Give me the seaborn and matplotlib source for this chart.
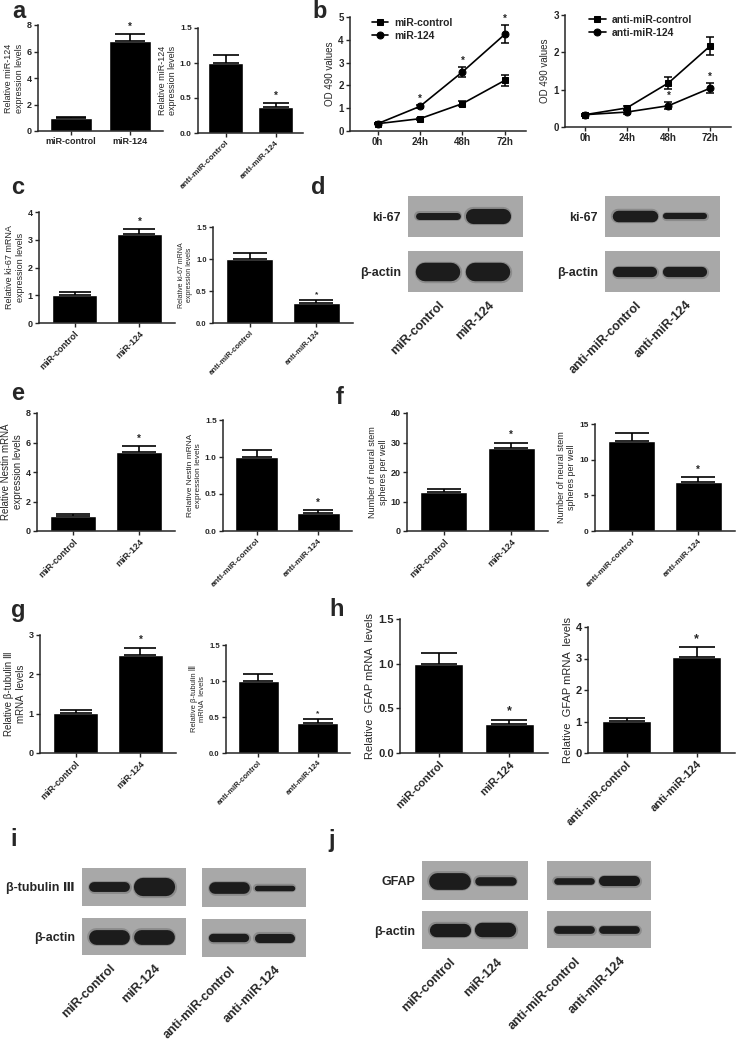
import numpy as np
import pandas as pd
import seaborn as sns
import matplotlib.pyplot as plt

# ---- data ----
groups_mir = ['miR-control', 'miR-124']
groups_anti = ['anti-miR-control', 'anti-miR-124']
times = ['0h', '24h', '48h', '72h']

# a: miR-124 expression
a_mir_mean = [1.0, 6.8]
a_mir_err = [0.08, 0.5]
a_anti_mean = [1.0, 0.37]
a_anti_err = [0.12, 0.06]

# b: OD 490 over time
b_ctrl = [0.32, 0.54, 1.20, 2.22]
b_ctrl_err = [0.03, 0.05, 0.10, 0.23]
b_124 = [0.32, 1.08, 2.59, 4.24]
b_124_err = [0.03, 0.08, 0.22, 0.39]
b_anti_ctrl = [0.33, 0.51, 1.18, 2.17]
b_anti_ctrl_err = [0.03, 0.05, 0.15, 0.24]
b_anti_124 = [0.33, 0.40, 0.57, 1.04]
b_anti_124_err = [0.03, 0.05, 0.10, 0.13]

# c: ki-67 mRNA
c_mir_mean = [1.02, 3.2]
c_mir_err = [0.08, 0.2]
c_anti_mean = [1.0, 0.31]
c_anti_err = [0.1, 0.05]

# e: Nestin mRNA
e_mir_mean = [1.05, 5.35]
e_mir_err = [0.08, 0.4]
e_anti_mean = [1.0, 0.24]
e_anti_err = [0.1, 0.04]

# f: neural stem spheres per well
f_mir_mean = [13.2, 28.0]
f_mir_err = [1.1, 2.0]
f_anti_mean = [12.6, 6.8]
f_anti_err = [1.2, 0.8]

# g: beta-tubulin III mRNA
g_mir_mean = [1.02, 2.48]
g_mir_err = [0.08, 0.2]
g_anti_mean = [1.0, 0.41]
g_anti_err = [0.1, 0.06]

# h: GFAP mRNA
h_mir_mean = [1.0, 0.32]
h_mir_err = [0.12, 0.05]
h_anti_mean = [1.02, 3.05]
h_anti_err = [0.08, 0.3]

# western blot band thickness (fraction of strip height)
d_ki67_mir = [0.17, 0.37]
d_actin_mir = [0.45, 0.45]
d_ki67_anti = [0.28, 0.15]
d_actin_anti = [0.25, 0.25]
i_tub_mir = [0.26, 0.48]
i_actin_mir = [0.40, 0.40]
i_tub_anti = [0.30, 0.14]
i_actin_anti = [0.22, 0.24]
j_gfap_mir = [0.43, 0.22]
j_actin_mir = [0.35, 0.38]
j_gfap_anti = [0.17, 0.26]
j_actin_anti = [0.21, 0.21]

# ---- style ----
sns.set_style('ticks')
plt.rcParams['font.family'] = ['Liberation Sans', 'DejaVu Sans']
plt.rcParams['axes.linewidth'] = 1.1

W, H = 738, 1039
fig = plt.figure(figsize=(W / 100, H / 100), dpi=100)


def add_ax(box):
    x0, y0, x1, y1 = box
    return fig.add_axes([x0 / W, 1 - y1 / H, (x1 - x0) / W, (y1 - y0) / H])


def bar_panel(box, groups, means, errs, ymax, ystep, ylabel, ylab_fs,
              tick_fs, rotate=True, star_fs=7):
    ax = add_ax(box)
    df = pd.DataFrame({'group': groups, 'value': means})
    sns.barplot(data=df, x='group', y='value', color='black', saturation=1,
                width=0.7, errorbar=None, ax=ax)
    ax.set_xlim(-0.55, 1.55)
    bar_px = 0.7 * (box[2] - box[0]) / 2.1
    ax.errorbar(range(len(groups)), means, yerr=[[0] * len(errs), errs],
                fmt='none', ecolor='black', elinewidth=1.2, capthick=1.2,
                capsize=bar_px * 0.36 * 0.72)
    ax.text(1, means[1] + errs[1] + ymax * 0.02, '*', ha='center', va='bottom',
            fontsize=star_fs, fontweight='bold')
    ax.set_ylim(0, ymax)
    ax.set_yticks(np.arange(0, ymax + ystep / 2, ystep))
    ax.set_xlabel('')
    ax.set_ylabel(ylabel, fontsize=ylab_fs, labelpad=2)
    ax.tick_params(length=3, width=1, pad=1.5, labelsize=tick_fs)
    for lab in ax.get_yticklabels():
        lab.set_fontweight('bold')
    ax.set_xticks(range(len(groups)))
    if rotate:
        ax.set_xticklabels(groups, rotation=45, ha='right',
                           rotation_mode='anchor', fontweight='bold')
    else:
        ax.set_xticklabels(groups, fontweight='bold')
    sns.despine(ax=ax)
    return ax


def line_panel(box, names, series, errs, ymax, legend_anchor):
    ax = add_ax(box)
    rows = []
    for name, vals in zip(names, series):
        for k, v in enumerate(vals):
            rows.append({'t': k, 'value': v, 'group': name})
    df = pd.DataFrame(rows)
    sns.lineplot(data=df, x='t', y='value', style='group', style_order=names,
                 markers={names[0]: 's', names[1]: 'o'}, dashes=False,
                 color='black', markersize=5, linewidth=1.2,
                 markeredgecolor='black', ax=ax)
    for vals, err in zip(series, errs):
        ax.errorbar(range(len(vals)), vals, yerr=err, fmt='none',
                    ecolor='black', elinewidth=1.1, capsize=3, capthick=1.1)
    ax.set_ylim(0, ymax)
    ax.set_yticks(range(0, ymax + 1))
    ax.set_xticks(range(len(times)))
    ax.set_xticklabels(times, fontweight='bold')
    for lab in ax.get_yticklabels():
        lab.set_fontweight('bold')
    ax.set_xlabel('')
    ax.set_ylabel('OD 490 values', fontsize=7, labelpad=2)
    ax.tick_params(length=3, width=1, pad=1.5, labelsize=7)
    ax.legend(frameon=False, loc='upper left', bbox_to_anchor=legend_anchor,
              prop={'weight': 'bold', 'size': 7.5}, handlelength=1.6,
              handletextpad=0.6, labelspacing=0.3, borderaxespad=0)
    sns.despine(ax=ax)
    return ax


def blot(box, bands, row_label=None, lane_labels=None, label_fs=9, pad=5):
    ax = add_ax(box)
    ax.set_facecolor('#a8a8a8')
    ax.set_xlim(-0.6, 1.7)
    ax.set_ylim(0, 1)
    box_w = box[2] - box[0]
    box_h = box[3] - box[1]
    px_unit = box_w / 2.3
    for k, t in enumerate(bands):
        lw_px = t * box_h
        half = (0.9 * px_unit - lw_px) / 2 / px_unit
        ax.plot([k - half, k + half], [0.5, 0.5], color='#555555',
                lw=(lw_px + 3) * 0.72, solid_capstyle='round', alpha=0.35)
        ax.plot([k - half, k + half], [0.5, 0.5], color='#1c1c1c',
                lw=lw_px * 0.72, solid_capstyle='round')
    for s in ax.spines.values():
        s.set_visible(False)
    if row_label:
        ax.set_yticks([0.5])
        ax.set_yticklabels([row_label], fontsize=label_fs, fontweight='bold')
    else:
        ax.set_yticks([])
    if lane_labels:
        ax.set_xticks(range(len(lane_labels)))
        ax.set_xticklabels(lane_labels, rotation=45, ha='right',
                           rotation_mode='anchor', fontsize=9,
                           fontweight='bold')
    else:
        ax.set_xticks([])
    ax.tick_params(length=0, pad=pad)
    return ax


# ---- a ----
bar_panel((38, 25, 163, 131), groups_mir, a_mir_mean, a_mir_err, 8, 2,
          'Relative miR-124\nexpression levels', 6.5, 6.5, rotate=False)
bar_panel((198, 28, 303, 133), groups_anti, a_anti_mean, a_anti_err, 1.5, 0.5,
          'Relative miR-124\nexpression levels', 6.5, 6)

# ---- b ----
ax = line_panel((350, 17, 526, 131), groups_mir, [b_ctrl, b_124],
                [b_ctrl_err, b_124_err], 5, (0.1, 1.03))
ax.set_xlim(-0.65, 3.5)
for k in [1, 2, 3]:
    ax.text(k, b_124[k] + b_124_err[k] + 0.05, '*', ha='center', va='bottom',
            fontsize=7, fontweight='bold')
ax = line_panel((565, 15, 731, 127), groups_anti, [b_anti_ctrl, b_anti_124],
                [b_anti_ctrl_err, b_anti_124_err], 3, (0.12, 1.04))
ax.set_xlim(-0.48, 3.5)
for k in [2, 3]:
    ax.text(k, b_anti_124[k] + b_anti_124_err[k] + 0.03, '*', ha='center',
            va='bottom', fontsize=7, fontweight='bold')

# ---- c ----
bar_panel((39, 212, 175, 323), groups_mir, c_mir_mean, c_mir_err, 4, 1,
          'Relative ki-67 mRNA\nexpression levels', 6.5, 6.5)
bar_panel((213, 227, 353, 323), groups_anti, c_anti_mean, c_anti_err, 1.5, 0.5,
          'Relative ki-67 mRNA\nexpression levels', 5, 5.5, star_fs=6)

# ---- d ----
blot((408, 196, 523, 237), d_ki67_mir, 'ki-67')
blot((408, 251, 523, 292), d_actin_mir, '\u03b2-actin', groups_mir)
blot((605, 196, 720, 237), d_ki67_anti, 'ki-67')
blot((605, 251, 720, 292), d_actin_anti, '\u03b2-actin', groups_anti)

# ---- e ----
bar_panel((37, 413, 175, 531), groups_mir, e_mir_mean, e_mir_err, 8, 2,
          'Relative Nestin mRNA\nexpression levels', 7, 6.5)
bar_panel((223, 420, 352, 531), groups_anti, e_anti_mean, e_anti_err, 1.5, 0.5,
          'Relative Nestin mRNA\nexpression levels', 6, 6)

# ---- f ----
bar_panel((407, 413, 548, 531), groups_mir, f_mir_mean, f_mir_err, 40, 10,
          'Number of neural stem\nspheres per well', 6.5, 6.5)
bar_panel((595, 424, 735, 531), groups_anti, f_anti_mean, f_anti_err, 15, 5,
          'Number of neural stem\nspheres per well', 6.5, 6)

# ---- g ----
bar_panel((40, 635, 176, 753), groups_mir, g_mir_mean, g_mir_err, 3, 1,
          'Relative \u03b2-tubulin \u2162\nmRNA  levels', 7, 6.5)
bar_panel((226, 645, 350, 753), groups_anti, g_anti_mean, g_anti_err, 1.5, 0.5,
          'Relative \u03b2-tubulin \u2162\nmRNA  levels', 5.5, 5.5, star_fs=6)

# ---- h ----
bar_panel((400, 619, 548, 753), groups_mir, h_mir_mean, h_mir_err, 1.5, 0.5,
          'Relative  GFAP mRNA  levels', 8, 8, star_fs=9)
bar_panel((588, 627, 735, 753), groups_anti, h_anti_mean, h_anti_err, 4, 1,
          'Relative  GFAP mRNA  levels', 8, 8, star_fs=9)

# ---- i ----
blot((82, 868, 186, 906), i_tub_mir, '\u03b2-tubulin \u2162', label_fs=9)
blot((82, 918, 186, 955), i_actin_mir, '\u03b2-actin', groups_mir, label_fs=9)
blot((202, 868, 306, 907), i_tub_anti)
blot((202, 919, 306, 957), i_actin_anti, None, groups_anti)

# ---- j ----
blot((422, 861, 528, 900), j_gfap_mir, 'GFAP')
blot((422, 911, 528, 949), j_actin_mir, '\u03b2-actin', groups_mir)
blot((547, 861, 651, 900), j_gfap_anti)
blot((547, 911, 651, 948), j_actin_anti, None, groups_anti)

# panel letters
letters = {'a': (19, 12), 'b': (320, 12), 'c': (18, 188), 'd': (318, 188),
           'e': (18, 394), 'f': (340, 397), 'g': (18, 610), 'h': (337, 610),
           'i': (14, 840), 'j': (332, 840)}
for s, (x, y) in letters.items():
    fig.text(x / W, 1 - y / H, s, fontsize=17, fontweight='bold',
             ha='center', va='center')

fig.savefig('out.png', dpi=100, facecolor='white')
